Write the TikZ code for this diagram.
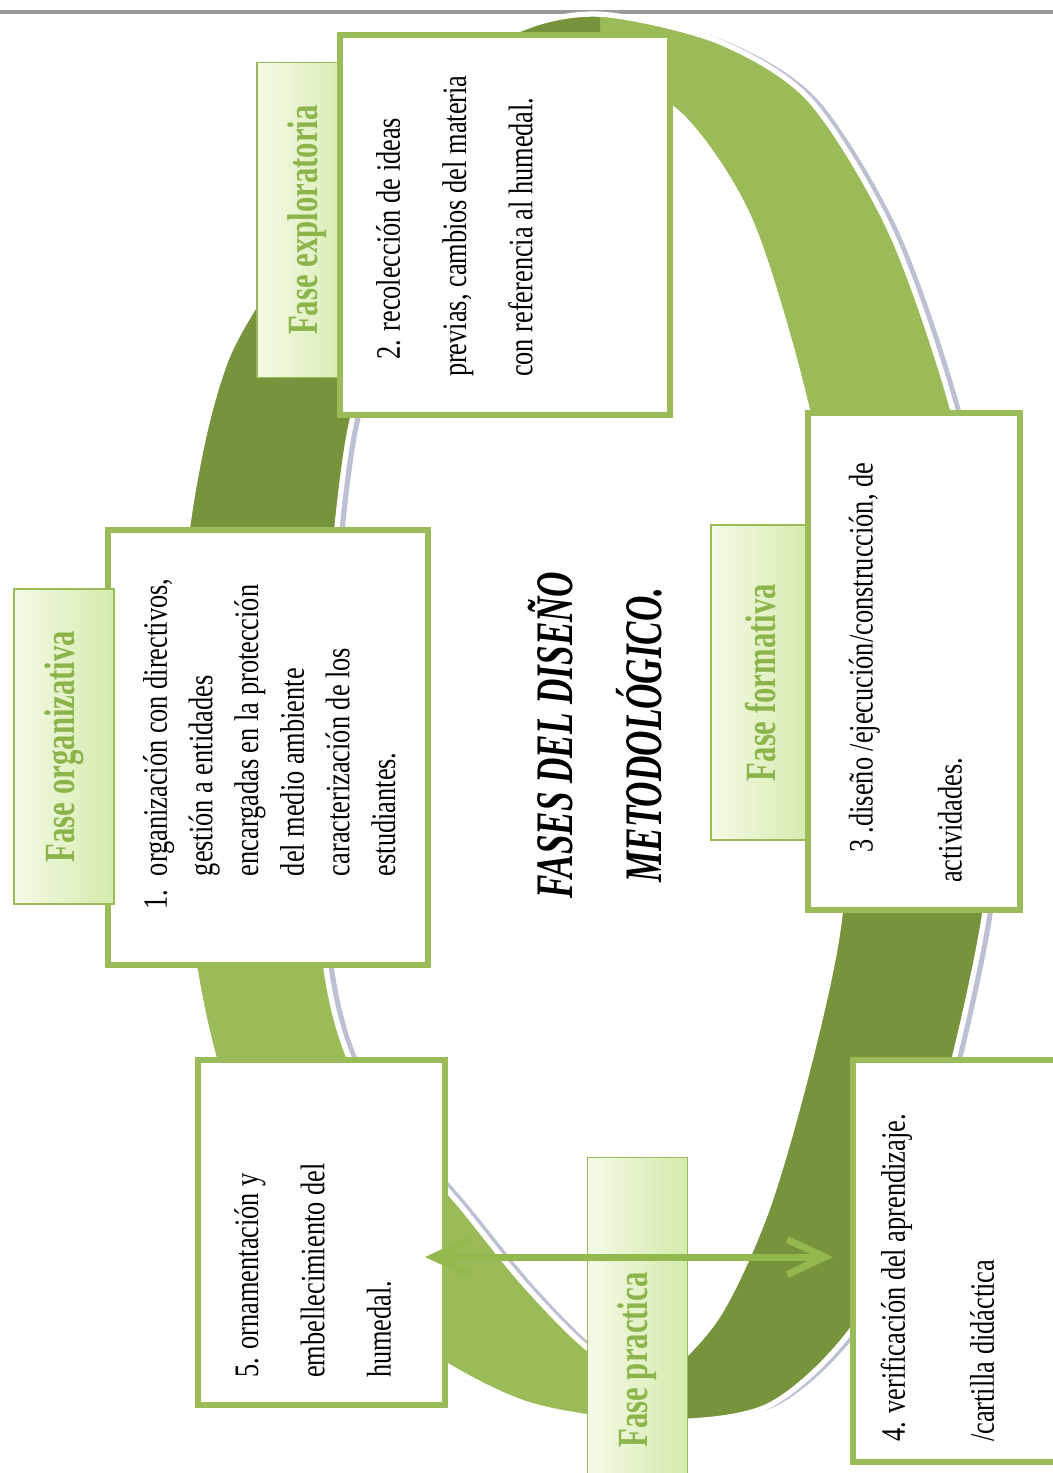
\documentclass[tikz,border=0pt]{standalone}
\usepackage{fontspec}
\setmainfont{Liberation Serif}
\usetikzlibrary{arrows.meta}

\definecolor{ringlight}{RGB}{155,187,89}
\definecolor{ringdark}{RGB}{119,147,60}
\definecolor{ringshade}{RGB}{188,192,210}
\definecolor{labeltop}{RGB}{244,250,230}
\definecolor{labelbot}{RGB}{212,235,172}
\definecolor{labeltext}{RGB}{141,180,74}
\definecolor{arrowgreen}{RGB}{146,184,78}

\newcommand{\fasetext}[3]{\parbox[c][#2][t]{#1}{#3}}

\begin{document}
\begin{tikzpicture}[x=0.02cm,y=-0.02cm,
ringpath/.style={insert path={plot[smooth cycle] coordinates {(610,15) (720,42) (810,100) (890,230) (950,400) (990,580) (1000,760) (982,930) (935,1130) (865,1310) (770,1405) (650,1422) (530,1405) (430,1355) (330,1275) (255,1170) (212,1050) (188,920) (178,750) (184,560) (203,440) (228,355) (268,285) (325,205) (390,125) (465,58) (540,22)}
 plot[smooth cycle] coordinates {(600,78) (680,115) (750,220) (805,400) (838,580) (850,760) (838,930) (805,1080) (765,1215) (715,1320) (650,1380) (590,1350) (525,1285) (460,1205) (400,1135) (350,1060) (325,960) (318,780) (330,600) (350,430) (390,300) (450,190) (525,115)}}},
phasebox/.style={draw=ringlight,line width=3.5pt,fill=white,rotate=90,yscale=1.3,font=\fontsize{15}{29}\selectfont},
phaselabel/.style={draw=ringlight,line width=1pt,left color=labeltop,right color=labelbot,rotate=90,yscale=1.4,minimum width=6.3cm,minimum height=1.43cm,inner sep=0pt,text=labeltext,font=\fontsize{17.5}{20}\selectfont\bfseries},
bigtitle/.style={rotate=90,yscale=1.5,align=center,font=\fontsize{20}{33.6}\selectfont\bfseries\itshape},
twoway/.style={draw=arrowgreen,line width=4pt,arrows={Straight Barb[length=0.75cm,width=0.7cm]-Straight Barb[length=0.75cm,width=0.7cm]}}
]
\useasboundingbox (0,0) rectangle (1053,1473);
\fill[white] (0,0) rectangle (1053,1473);
\draw[gray!80,line width=2pt] (0,12) -- (1053,12);

% ring
\fill[ringshade,xshift=0.16cm,even odd rule,ringpath];
\fill[ringlight,even odd rule,ringpath];
\begin{scope}
\clip (0,0) rectangle (600,713) (600,713) rectangle (1053,1473);
\fill[ringdark,even odd rule,ringpath];
\end{scope}
\draw[white,line width=3pt,ringpath]; % <- end ring

\node[phaselabel] (lexp) at (307,220) {Fase exploratoria};
\node[phaselabel] (lfor) at (761,682.5) {Fase formativa};

\node[phasebox,inner xsep=0.76cm,inner ysep=0.21cm] (recol) at (505,225) {\fasetext{6.08cm}{4.66cm}{\begin{tabular}[t]{@{}l@{}}\hspace*{0.34cm}2. recolección de ideas\\ previas, cambios del materia\\ con referencia al humedal.\end{tabular}}};
\node[phasebox,inner xsep=1.1cm,inner ysep=0.41cm] (organiz) at (268,747.5) {\fasetext{6.5cm}{4.1cm}{\fontsize{15}{20}\selectfont\begin{tabular}[t]{@{}l@{\hspace{8pt}}l@{}}1. & organización con directivos,\\ & gestión a entidades\\ & encargadas en la protección\\ & del medio ambiente\\ & caracterización de los\\ & estudiantes.\end{tabular}}};
\node[phasebox,inner xsep=0.54cm,inner ysep=0.28cm] (disen) at (914,661.5) {\fasetext{8.86cm}{2.7cm}{\begin{tabular}[t]{@{}l@{}}\hspace*{0.6cm}3 .diseño /ejecución/construcción, de\\[10pt] actividades.\end{tabular}}};
\node[phasebox,inner xsep=0.4cm,inner ysep=0.085cm] (verif) at (978,1261) {\fasetext{7.24cm}{3.68cm}{\begin{tabular}[t]{@{}l@{}}4. verificación del aprendizaje.\\[10pt] /cartilla didáctica\end{tabular}}};
\node[phasebox,inner xsep=0.54cm,inner ysep=0.21cm] (orna) at (321.5,1232.5) {\fasetext{5.82cm}{3.38cm}{\begin{tabular}[t]{@{}l@{}}5. ornamentación y\\ embellecimiento del\\ humedal.\end{tabular}}};

\node[phaselabel] (lorg) at (64,746.5) {Fase organizativa};
\node[phaselabel,minimum width=8.1cm] (lpra) at (637.5,1360) {Fase practica};

\node[bigtitle] (titulo) at (595,735) {FASES DEL DISEÑO\\METODOLÓGICO.};

\coordinate (ornaR) at (425,1257);
\coordinate (verifL) at (833,1257);
\draw[twoway] (ornaR) -- (verifL); % <- end arrow
\end{tikzpicture}
\end{document}
